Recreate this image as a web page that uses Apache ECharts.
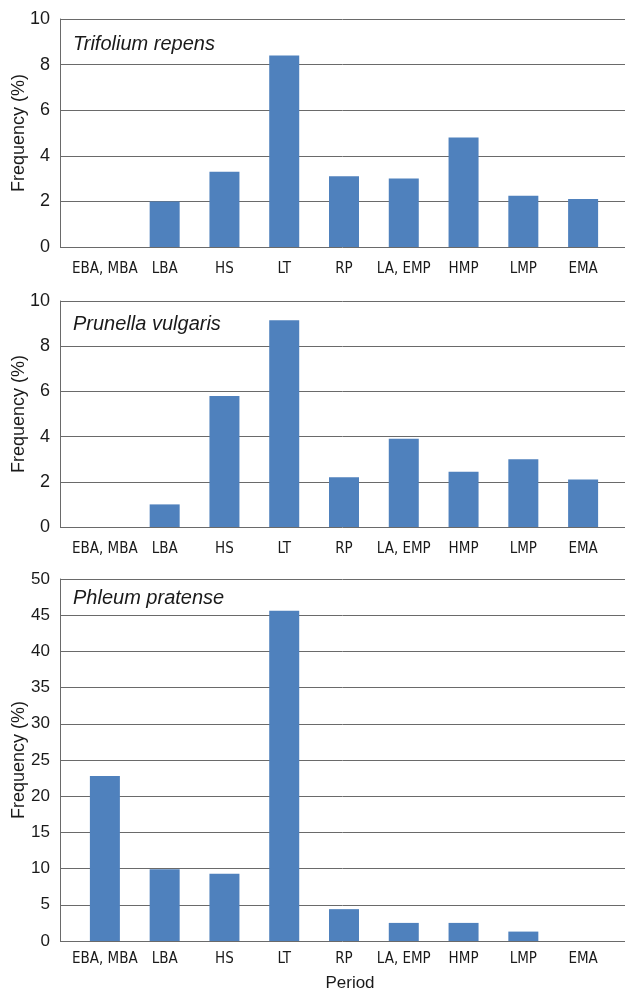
<!DOCTYPE html>
<html>
<head>
<meta charset="utf-8">
<script src="https://cdn.jsdelivr.net/npm/echarts@6/dist/echarts.min.js"></script>
<style>
html,body{margin:0;padding:0;background:#fff;}
#chart{width:625px;height:992px;}
</style>
</head>
<body>
<div id="chart"></div>
<script>
const categories = ['EBA, MBA', 'LBA', 'HS', 'LT', 'RP', 'LA, EMP', 'HMP', 'LMP', 'EMA'];
const trifoliumValues = [0, 2.0, 3.3, 8.4, 3.1, 3.0, 4.8, 2.25, 2.1];
const prunellaValues = [0, 1.0, 5.8, 9.15, 2.2, 3.9, 2.45, 3.0, 2.1];
const phleumValues = [22.8, 9.9, 9.3, 45.6, 4.4, 2.5, 2.5, 1.3, 0];
const speciesNames = ['Trifolium repens', 'Prunella vulgaris', 'Phleum pratense'];
const yMaxes = [10, 10, 50];
const yIntervals = [2, 2, 5];
const xAxisTitle = 'Period';
const yAxisTitle = 'Frequency (%)';

const seriesValues = [trifoliumValues, prunellaValues, phleumValues];
const layout = [
  {top: 19, height: 228, tickFont: 18, catMargin: 15, titleTop: 34},
  {top: 301, height: 226, tickFont: 18, catMargin: 15, titleTop: 314},
  {top: 579, height: 362, tickFont: 17, catMargin: 11, titleTop: 588}
];
const txt = '#1a1a1a';
const lineCol = '#6a6a6a';
const font = 'Liberation Sans, Arial, sans-serif';
const narrow = 'DejaVu Sans Condensed, Liberation Sans, sans-serif';

const grid = [], xAxis = [], yAxis = [], series = [], title = [];
layout.forEach((L, i) => {
  grid.push({left: 60, right: 0, top: L.top, height: L.height, outerBoundsMode: 'none', containLabel: false});
  grid.push({left: 75, right: 12, top: L.top, height: L.height, outerBoundsMode: 'none', containLabel: false});
  xAxis.push({gridIndex: 2 * i, type: 'value', min: 0, max: 1, show: false});
  xAxis.push({
    gridIndex: 2 * i + 1, type: 'category', data: categories,
    axisLine: {show: false}, axisTick: {show: false},
    axisLabel: {margin: L.catMargin, fontSize: 15, color: txt, fontFamily: narrow, interval: 0},
    name: i === 2 ? xAxisTitle : '', nameLocation: 'middle', nameGap: 34, nameMoveOverlap: false,
    nameTextStyle: {fontSize: 17, color: txt, fontFamily: font, padding: [0, 0, 0, 12]}
  });
  yAxis.push({
    gridIndex: 2 * i, type: 'value', min: 0, max: yMaxes[i], interval: yIntervals[i],
    axisLine: {show: true, lineStyle: {color: lineCol, width: 1}},
    axisTick: {show: false},
    splitLine: {show: true, lineStyle: {color: lineCol, width: 1}},
    axisLabel: {fontSize: L.tickFont, color: txt, fontFamily: font, margin: 10},
    name: yAxisTitle, nameLocation: 'middle', nameGap: 32, nameMoveOverlap: false,
    nameTextStyle: {fontSize: 18, color: txt, fontFamily: font}
  });
  yAxis.push({gridIndex: 2 * i + 1, type: 'value', min: 0, max: yMaxes[i], show: false});
  series.push({
    type: 'bar', xAxisIndex: 2 * i + 1, yAxisIndex: 2 * i + 1,
    data: seriesValues[i], barWidth: 30,
    itemStyle: {color: '#4f81bd'},
    silent: true
  });
  title.push({
    text: speciesNames[i], left: 73, top: L.titleTop, padding: 0,
    textStyle: {fontSize: 20, fontStyle: 'italic', fontWeight: 'normal', color: txt, fontFamily: font}
  });
});

const chart = echarts.init(document.getElementById('chart'), null, {renderer: 'canvas'});
chart.setOption({
  animation: false,
  backgroundColor: '#fff',
  title, grid, xAxis, yAxis, series
});
</script>
</body>
</html>
